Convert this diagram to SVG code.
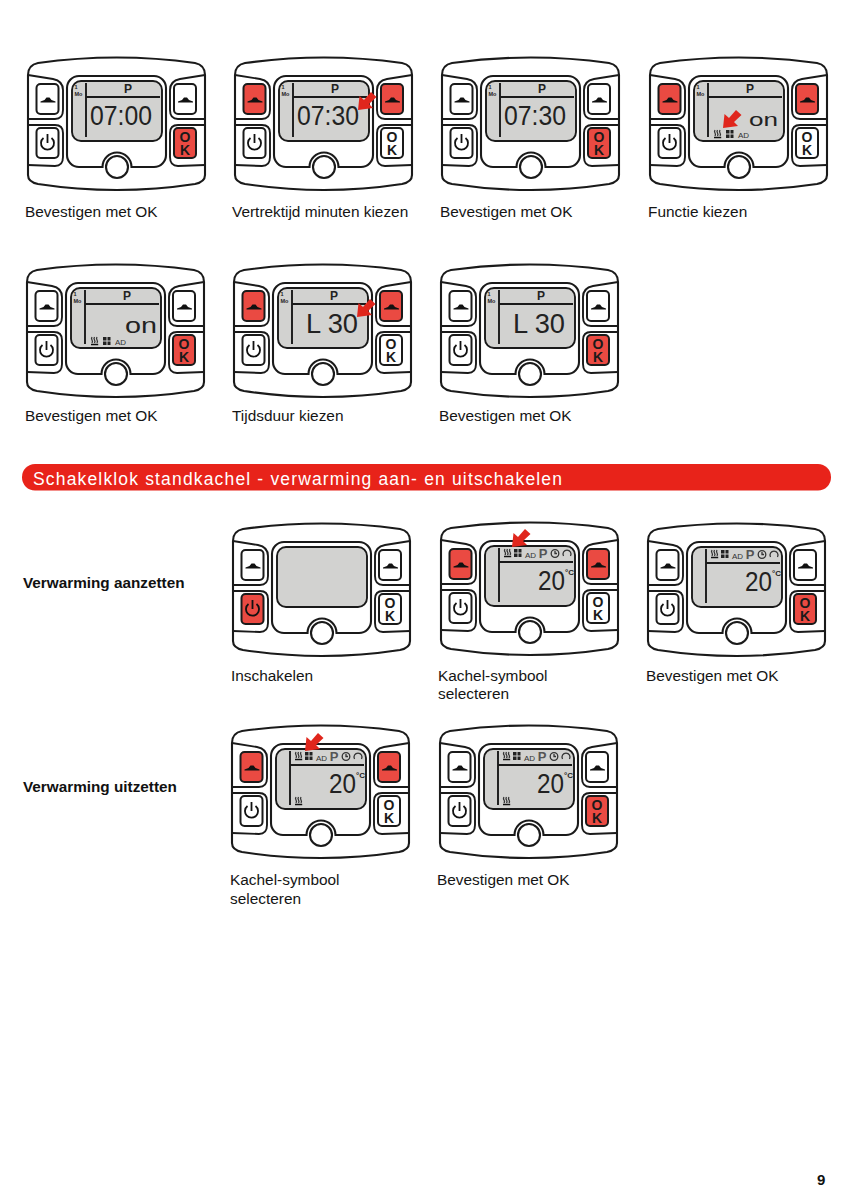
<svg xmlns="http://www.w3.org/2000/svg" width="847" height="1200" viewBox="0 0 847 1200">
<style>
.ln{fill:none;stroke:#1a1a1a;stroke-width:1.9}
.bd{fill:#fff;stroke:#1a1a1a;stroke-width:2.1}
.key{stroke:#1a1a1a;stroke-width:2}
.r{fill:#ea4a42}.w{fill:#fff}
.lab{font:15.4px "Liberation Sans",Arial,sans-serif;fill:#151515}
.hd{font:bold 15.3px "Liberation Sans",Arial,sans-serif;fill:#111}
.lcd{font-family:"Liberation Sans",Arial,sans-serif;fill:#222;font-size:27px}
.on1{font-size:19px}.on2{font-size:22px}
.p{font:bold 12px "Liberation Sans",Arial,sans-serif;fill:#222;text-anchor:middle}
.pg{font:bold 13px "Liberation Sans",Arial,sans-serif;fill:#555;text-anchor:middle}
.s{font:bold 5.5px "Liberation Sans",Arial,sans-serif;fill:#222}
.dg{font:bold 8px "Liberation Sans",Arial,sans-serif;fill:#222}
.ic{fill:none;stroke:#333;stroke-width:1.3}
.ad{font:8px "Liberation Sans",Arial,sans-serif;fill:#333}
.ok{font:bold 14px "Liberation Sans",Arial,sans-serif;fill:#1a1a1a;text-anchor:middle}
</style>
<defs>
<g id="body">
<path class="bd" d="M8,25Q8,15 18,13Q97,2 175,13Q185,15 185,25V125Q185,132 175,134Q97,146 18,134Q8,132 8,125Z"/>
<path class="ln" d="M8,25L33,29Q43,31 43,40V60Q43,69 35,69H8M8,75H35Q43,75 43,83V107Q43,116 35,116L8,115M185,25L160,29Q150,31 150,40V60Q150,69 158,69H185M185,75H158Q150,75 150,83V107Q150,116 158,116L185,115"/>
<path class="bd" d="M59,26H134A12,12 0 0 1 146,38V105A12,12 0 0 1 134,117H111.500A14.500,14.500 0 0 0 82.500,117H59A12,12 0 0 1 47,105V38A12,12 0 0 1 59,26Z"/>
<rect x="52" y="31" width="90" height="60" rx="9" fill="#d2d2d0" stroke="#1a1a1a" stroke-width="1.9"/>
<circle cx="97" cy="117" r="11" fill="#fff" stroke="#1a1a1a" stroke-width="2.1"/>
</g>
<g id="up"><rect class="key" width="22" height="30" rx="4"/><path fill="#111" d="M4,17.500L8,16L10,13.500H13L15,16L19,17.500V18.500H4Z"/></g>
<g id="pw"><rect class="key" width="22" height="30" rx="4"/><path fill="none" stroke="#111" stroke-width="1.8" d="M7,10A6.500,6.500 0 1 0 15,10M11,6V15"/></g>
<g id="okk"><rect class="key" width="22" height="30" rx="4"/><text class="ok" x="11" y="13.500">O</text><text class="ok" x="11" y="27">K</text></g>
<g id="grid"><path class="ln" d="M66,33V87M66,47H140"/></g>
<g id="pm"><text class="p" x="108" y="43">P</text><text class="s" x="54.500" y="39">1</text><text class="s" x="54.500" y="46">Mo</text></g>
<g id="heat"><path class="ic" d="M1,0Q0,1.500 1,3T1,6M3.500,0Q2.500,1.500 3.500,3T3.500,6M6,0Q5,1.500 6,3T6,6"/><path stroke="#111" stroke-width="1.500" d="M0,7.500H7.200"/></g>
<g id="fan"><path fill="#222" d="M0,0H3.500L3.500,3.500L0,3.500ZM7.500,0H4.500L4.500,3.500L7.500,3.500ZM0,8H3.500L3.500,4.500L0,4.500ZM7.500,8H4.500L4.500,4.500L7.500,4.500Z"/></g>
<g id="top"><use href="#heat" x="71" y="34"/><use href="#fan" x="81" y="34"/><text class="ad" x="92" y="42.500">AD</text><text class="pg" x="110" y="43">P</text><circle class="ic" cx="122" cy="38.500" r="3.800"/><path class="ic" d="M122,36V38.500H124"/><path class="ic" d="M130.500,41A4,4 0 1 1 137.500,41"/></g>
<g id="ico"><use href="#heat" x="72" y="80"/><use href="#fan" x="84" y="80"/><text class="ad" x="96" y="88">AD</text></g>
<g id="deg"><text class="dg" x="132" y="60">°C</text></g>
<polygon id="arr" fill="#e0261c" points="0,0 1.500,-14 6,-10 13,-18 18.500,-13 11,-6 15,-2"/>
</defs>
<rect width="847" height="1200" fill="#fff"/>

<g id="d1" transform="translate(20,50)"><use href="#body"/><use href="#up" class="w" x="16.500" y="34"/><use href="#pw" class="w" x="16.500" y="78"/><use href="#up" class="w" x="154" y="34"/><use href="#okk" class="r" x="154" y="78"/><use href="#grid"/><use href="#pm"/><text class="lcd" x="70" y="75" textLength="62" lengthAdjust="spacingAndGlyphs">07:00</text></g>
<g id="d2" transform="translate(227,50)"><use href="#body"/><use href="#up" class="r" x="16.500" y="34"/><use href="#pw" class="w" x="16.500" y="78"/><use href="#up" class="r" x="154" y="34"/><use href="#okk" class="w" x="154" y="78"/><use href="#grid"/><use href="#pm"/><text class="lcd" x="70" y="75" textLength="62" lengthAdjust="spacingAndGlyphs">07:30</text><use href="#arr" x="131" y="60"/></g>
<g id="d3" transform="translate(434,50)"><use href="#body"/><use href="#up" class="w" x="16.500" y="34"/><use href="#pw" class="w" x="16.500" y="78"/><use href="#up" class="w" x="154" y="34"/><use href="#okk" class="r" x="154" y="78"/><use href="#grid"/><use href="#pm"/><text class="lcd" x="70" y="75" textLength="62" lengthAdjust="spacingAndGlyphs">07:30</text></g>
<g id="d4" transform="translate(642,50)"><use href="#body"/><use href="#up" class="r" x="16.500" y="34"/><use href="#pw" class="w" x="16.500" y="78"/><use href="#up" class="r" x="154" y="34"/><use href="#okk" class="w" x="154" y="78"/><use href="#grid"/><use href="#pm"/><use href="#ico"/><text class="lcd on1" x="107" y="76" textLength="29" lengthAdjust="spacingAndGlyphs">on</text><use href="#arr" x="81" y="78"/></g>

<g id="d5" transform="translate(19,257)"><use href="#body"/><use href="#up" class="w" x="16.500" y="34"/><use href="#pw" class="w" x="16.500" y="78"/><use href="#up" class="w" x="154" y="34"/><use href="#okk" class="r" x="154" y="78"/><use href="#grid"/><use href="#pm"/><use href="#ico"/><text class="lcd on2" x="106" y="76" textLength="32" lengthAdjust="spacingAndGlyphs">on</text></g>
<g id="d6" transform="translate(226,257)"><use href="#body"/><use href="#up" class="r" x="16.500" y="34"/><use href="#pw" class="w" x="16.500" y="78"/><use href="#up" class="r" x="154" y="34"/><use href="#okk" class="w" x="154" y="78"/><use href="#grid"/><use href="#pm"/><text class="lcd" x="80" y="76" textLength="52" lengthAdjust="spacingAndGlyphs">L 30</text><use href="#arr" x="131" y="60"/></g>
<g id="d7" transform="translate(433,257)"><use href="#body"/><use href="#up" class="w" x="16.500" y="34"/><use href="#pw" class="w" x="16.500" y="78"/><use href="#up" class="w" x="154" y="34"/><use href="#okk" class="r" x="154" y="78"/><use href="#grid"/><use href="#pm"/><text class="lcd" x="80" y="76" textLength="52" lengthAdjust="spacingAndGlyphs">L 30</text></g>

<g id="banner"><rect x="22" y="464" width="809" height="26.500" rx="13" fill="#e8231a"/><text x="33" y="485" font-family="Liberation Sans,Arial,sans-serif" font-size="17.500" fill="#fff" textLength="529">Schakelklok standkachel - verwarming aan- en uitschakelen</text></g>

<g id="d8" transform="translate(225,516)"><use href="#body"/><use href="#up" class="w" x="16.500" y="34"/><use href="#pw" class="r" x="16.500" y="78"/><use href="#up" class="w" x="154" y="34"/><use href="#okk" class="w" x="154" y="78"/></g>
<g id="d9" transform="translate(433,515)"><use href="#body"/><use href="#up" class="r" x="16.500" y="34"/><use href="#pw" class="w" x="16.500" y="78"/><use href="#up" class="r" x="154" y="34"/><use href="#okk" class="w" x="154" y="78"/><use href="#grid"/><use href="#top"/><text class="lcd" x="105" y="75" textLength="27" lengthAdjust="spacingAndGlyphs">20</text><use href="#deg"/><use href="#arr" x="79" y="32"/></g>
<g id="d10" transform="translate(640,516)"><use href="#body"/><use href="#up" class="w" x="16.500" y="34"/><use href="#pw" class="w" x="16.500" y="78"/><use href="#up" class="w" x="154" y="34"/><use href="#okk" class="r" x="154" y="78"/><use href="#grid"/><use href="#top"/><text class="lcd" x="105" y="75" textLength="27" lengthAdjust="spacingAndGlyphs">20</text><use href="#deg"/></g>
<g id="d11" transform="translate(224,718)"><use href="#body"/><use href="#up" class="r" x="16.500" y="34"/><use href="#pw" class="w" x="16.500" y="78"/><use href="#up" class="r" x="154" y="34"/><use href="#okk" class="w" x="154" y="78"/><use href="#grid"/><use href="#top"/><use href="#heat" x="71" y="79"/><text class="lcd" x="105" y="75" textLength="27" lengthAdjust="spacingAndGlyphs">20</text><use href="#deg"/><use href="#arr" x="81" y="33"/></g>
<g id="d12" transform="translate(432,718)"><use href="#body"/><use href="#up" class="w" x="16.500" y="34"/><use href="#pw" class="w" x="16.500" y="78"/><use href="#up" class="w" x="154" y="34"/><use href="#okk" class="r" x="154" y="78"/><use href="#grid"/><use href="#top"/><use href="#heat" x="71" y="79"/><text class="lcd" x="105" y="75" textLength="27" lengthAdjust="spacingAndGlyphs">20</text><use href="#deg"/></g>

<g id="labels">
<text class="lab" x="25" y="217">Bevestigen met OK</text>
<text class="lab" x="232" y="217">Vertrektijd minuten kiezen</text>
<text class="lab" x="440" y="217">Bevestigen met OK</text>
<text class="lab" x="648" y="217">Functie kiezen</text>
<text class="lab" x="25" y="421">Bevestigen met OK</text>
<text class="lab" x="232" y="421">Tijdsduur kiezen</text>
<text class="lab" x="439" y="421">Bevestigen met OK</text>
<text class="hd" x="23" y="588">Verwarming aanzetten</text>
<text class="lab" x="231" y="681">Inschakelen</text>
<text class="lab" x="438" y="681">Kachel-symbool</text>
<text class="lab" x="438" y="699">selecteren</text>
<text class="lab" x="646" y="681">Bevestigen met OK</text>
<text class="hd" x="23" y="792">Verwarming uitzetten</text>
<text class="lab" x="230" y="885">Kachel-symbool</text>
<text class="lab" x="230" y="904">selecteren</text>
<text class="lab" x="437" y="885">Bevestigen met OK</text>
<text x="817" y="1185" font-family="Liberation Sans,Arial,sans-serif" font-weight="bold" font-size="15" fill="#111">9</text>
</g>
</svg>
